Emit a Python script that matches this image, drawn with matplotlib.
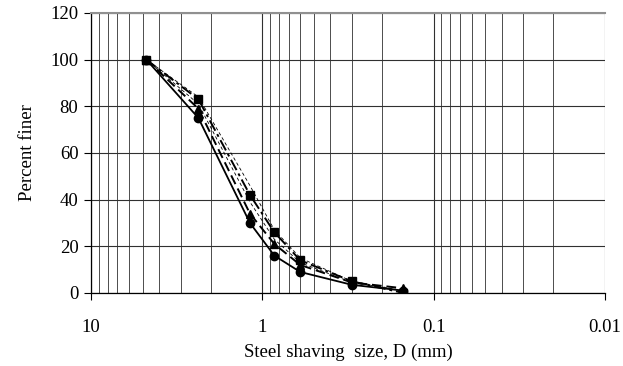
import matplotlib
matplotlib.use('Agg')
import matplotlib.pyplot as plt
from matplotlib.ticker import LogLocator, FixedLocator, NullFormatter

# sieve sizes (mm) and percent passing for each sample
sieve_mm = [4.75, 2.36, 1.18, 0.85, 0.6, 0.3, 0.15]
pct_circle = [100, 75, 30, 16, 9, 3.5, 1]
pct_triangle = [100, 79, 34, 21, 12, 4.5, 2]
pct_square = [100, 83, 42, 26, 14, 5, 0]
pct_thin_a = [100, 84, 46, 27, 15, 5, 1]
pct_thin_b = [100, 81, 39, 23, 13, 4.5, 1]

plt.rcParams['font.family'] = ['Liberation Serif', 'DejaVu Serif']

fig = plt.figure(figsize=(6.23, 3.66), dpi=100)
ax = fig.add_axes([0.146, 0.1995, 0.825, 0.765])

ax.plot(sieve_mm, pct_thin_a, color='black', lw=0.6, ls=(0, (4, 3)))
ax.plot(sieve_mm, pct_thin_b, color='black', lw=0.6, ls=(0, (4, 3)))
ax.plot(sieve_mm, pct_square, color='black', lw=1.4, ls=(0, (6, 2, 1.5, 2)),
        marker='s', ms=6)
ax.plot(sieve_mm, pct_triangle, color='black', lw=1.4, ls=(0, (5, 2.5)),
        marker='^', ms=6)
ax.plot(sieve_mm, pct_circle, color='black', lw=1.3, ls='-',
        marker='o', ms=6)

ax.set_xscale('log')
ax.set_xlim(10, 0.01)
ax.set_ylim(0, 120)
ax.set_yticks(range(0, 121, 20))
ax.xaxis.set_major_locator(FixedLocator([10, 1, 0.1, 0.01]))
ax.xaxis.set_minor_locator(LogLocator(base=10, subs=range(2, 10)))
ax.xaxis.set_minor_formatter(NullFormatter())
ax.set_xticklabels(['10', '1', '0.1', '0.01'])

ax.grid(which='major', axis='both', color='#303030', lw=0.8)
ax.grid(which='minor', axis='x', color='#303030', lw=0.6)
ax.set_axisbelow(True)

ax.tick_params(axis='both', which='major', direction='out', length=5,
               labelsize=13.5, width=0.8)
ax.tick_params(axis='x', which='minor', length=0)
ax.tick_params(axis='x', which='major', pad=14)
ax.tick_params(axis='y', which='major', pad=4)
ax.spines['right'].set_visible(False)
ax.spines['top'].set_color('#909090')
ax.spines['top'].set_linewidth(1.5)
for s in ['left', 'bottom']:
    ax.spines[s].set_linewidth(0.9)

ax.set_ylabel('Percent finer', fontsize=13.5, labelpad=10)
ax.set_xlabel('Steel shaving  size, D (mm)', fontsize=13.5, labelpad=5)

fig.savefig('out.png', dpi=100)
